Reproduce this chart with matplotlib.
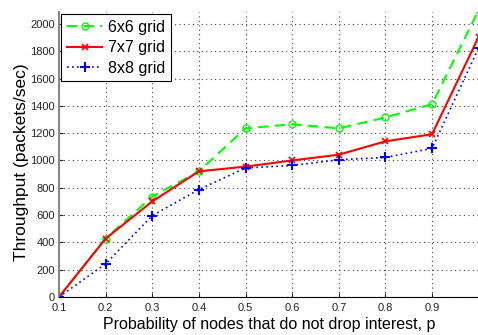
import matplotlib
matplotlib.use("Agg")
import matplotlib.pyplot as plt

p = [0.1, 0.2, 0.3, 0.4, 0.5, 0.6, 0.7, 0.8, 0.9, 1.0]
grid6 = [0, 428, 735, 920, 1235, 1265, 1235, 1315, 1412, 2100]
grid7 = [0, 428, 700, 920, 955, 1000, 1042, 1140, 1192, 1905]
grid8 = [0, 243, 596, 787, 945, 963, 1005, 1022, 1088, 1825]
xtick_labels = ["0.1", "0.2", "0.3", "0.4", "0.5", "0.6", "0.7", "0.8", "0.9"]
yticks = [0, 200, 400, 600, 800, 1000, 1200, 1400, 1600, 1800, 2000]

plt.rcParams['font.family'] = ['Liberation Sans', 'DejaVu Sans']

fig = plt.figure(figsize=(4.78, 3.35), dpi=100)
ax = fig.add_axes([0.1234, 0.1134, 0.878, 0.852])

ax.plot(p, grid6, color='#00ff00', linestyle=(0, (5, 3)), linewidth=1.5,
        marker='o', markersize=5, markerfacecolor='none', markeredgewidth=1,
        label='6x6 grid')
ax.plot(p, grid7, color='#ff0000', linestyle='-', linewidth=1.5,
        marker='x', markersize=5, markeredgewidth=1.2, label='7x7 grid')
ax.plot(p, grid8, color='#0000ff', linestyle=(0, (1, 2)), linewidth=1.2,
        marker='+', markersize=7, markeredgewidth=1.5, label='8x8 grid')

ax.set_xlim(0.1, 1.0)
ax.set_ylim(0, 2090)
ax.set_xticks(p[:-1])
ax.set_xticklabels(xtick_labels)
ax.set_yticks(yticks)
ax.tick_params(direction='in', length=3, labelsize=8, colors='#222222')
ax.tick_params(axis='y', pad=3)
ax.tick_params(axis='x', pad=4)
ax.grid(True, linestyle=(0, (1, 3)), color='#444444', linewidth=0.8)

ax.spines['top'].set_visible(False)
ax.spines['right'].set_visible(False)
ax.spines['left'].set_color('#888888')
ax.spines['left'].set_linewidth(1.5)
ax.spines['bottom'].set_color('#000000')

ax.set_xlabel('Probability of nodes that do not drop interest, p', fontsize=11.5, labelpad=3)
ax.set_ylabel('Throughput (packets/sec)', fontsize=12.5)
ax.yaxis.set_label_coords(-0.072, 0.473)

leg = ax.legend(loc='upper left', fontsize=11.5, fancybox=False, framealpha=1,
                edgecolor='black', handlelength=2.2, borderaxespad=0.15,
                borderpad=0.35, labelspacing=0.35, handletextpad=0.35)
leg.get_frame().set_linewidth(0.8)

fig.savefig('out.png', dpi=100)
